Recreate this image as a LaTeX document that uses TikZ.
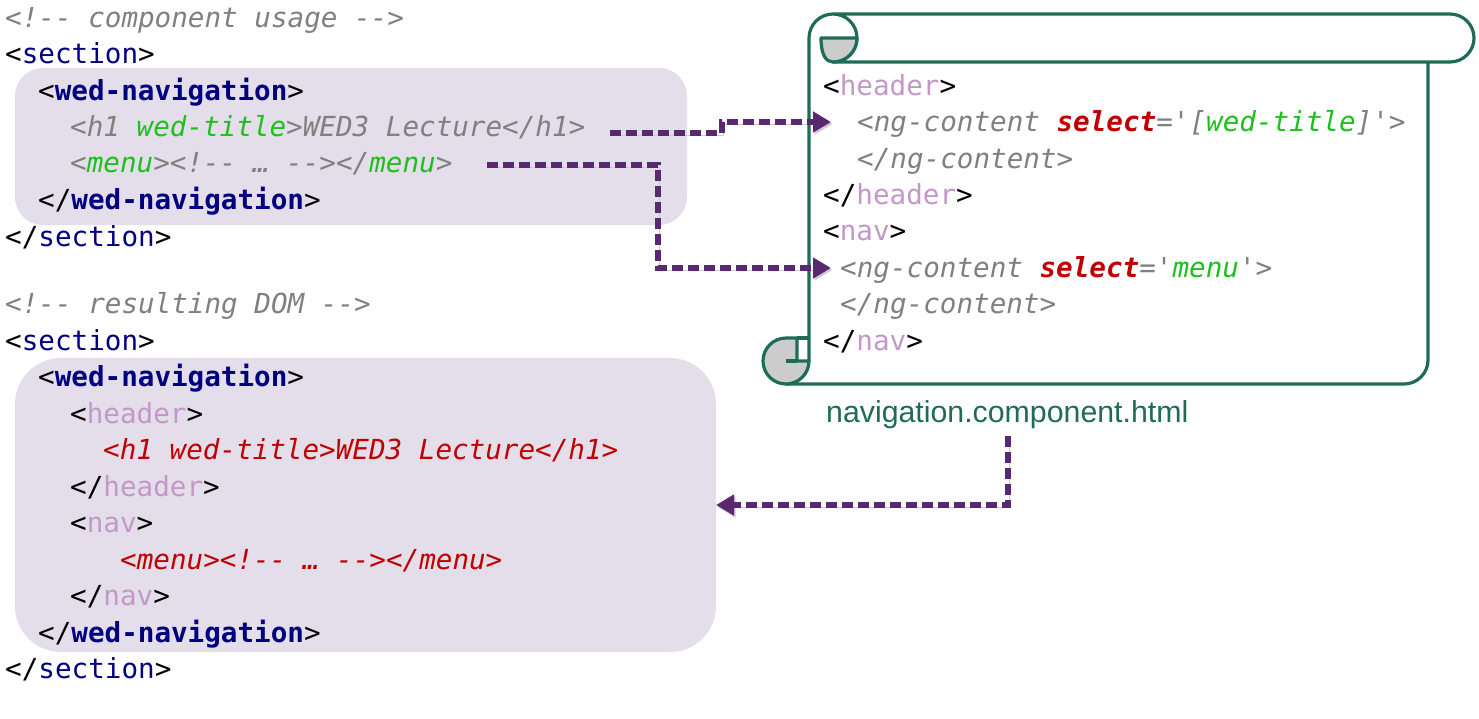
\documentclass[tikz,border=0pt]{standalone}
\usepackage{fontspec}
\usepackage{tikz}
\usetikzlibrary{arrows.meta}
\newfontfamily\codefont[Ligatures=TeXOff]{DejaVu Sans Mono}
\newfontfamily\labelfont{Liberation Sans}
\newcommand{\codestyle}{\codefont\fontsize{27.6}{30}\selectfont}
\definecolor{navytag}{RGB}{0,0,128}
\definecolor{cmtgray}{RGB}{128,128,128}
\definecolor{attrgreen}{RGB}{30,192,30}
\definecolor{lilac}{RGB}{195,152,200}
\definecolor{codered}{RGB}{192,0,0}
\definecolor{scrollgreen}{RGB}{30,108,88}
\definecolor{flowpurple}{RGB}{90,40,112}
\definecolor{boxlav}{RGB}{228,222,234}
\definecolor{curlgray}{RGB}{204,204,204}
\newcommand{\nv}[1]{\textcolor{navytag}{#1}}
\newcommand{\nvb}[1]{\textcolor{navytag}{\bfseries #1}}
\newcommand{\lil}[1]{\textcolor{lilac}{#1}}
\newcommand{\grn}[1]{\textcolor{attrgreen}{#1}}
\newcommand{\sel}[1]{\textcolor{codered}{\bfseries #1}}
\tikzset{code/.style={anchor=base west, inner sep=0pt, font=\codestyle},
  cmt/.style={code, text=cmtgray, font=\codestyle\itshape},
  redcode/.style={code, text=codered, font=\codestyle\itshape},
  lavbox/.style={fill=boxlav, rounded corners=#1},
  scroll/.style={draw=scrollgreen, line width=3.2pt, line join=round},
  curl/.style={scroll, fill=curlgray},
  flow/.style={draw=flowpurple, line width=5.5pt, dash pattern=on 11pt off 5pt,
    -{Triangle[length=18pt,width=20pt]},
    preaction={draw=black!20, transform canvas={xshift=1.5pt, yshift=-2pt}}}}

\begin{document}
\begin{tikzpicture}[x=1pt, y=-1pt]
  \useasboundingbox (0,0) rectangle (1479,718);
  % lavender boxes
  \fill[lavbox=28pt] (15,68) rectangle (687,225);
  \fill[lavbox=46pt] (15,358) rectangle (716,652);
  % scroll
  \draw[scroll] (809,361) -- (809,38) arc (180:450:24) -- (1450,62)
    arc (90:-90:24) -- (833,14);
  \filldraw[curl] (857,38) -- (821,38) .. controls (821,55) and (826,62) .. (833,62)
    arc (90:0:24) -- cycle;
  \draw[scroll, rounded corners=24pt] (1428,62) -- (1428,384) -- (786,384);
  \filldraw[curl] (786,338) -- (797,338) -- (797,361) -- (809,361) arc (0:270:23) -- cycle;
  \draw[scroll] (797,338) -- (809,338);
  \draw[scroll] (786,361) -- (797,361);
  % component usage
  \node[cmt] (cmtuse) at (5,27) {<!-- component usage -->};
  \node[code] (secuse) at (5,63) {<\nv{section}>};
  \node[code] (navuse) at (38,100) {<\nvb{wed-navigation}>};
  \node[cmt] (h1use) at (70,136) {<h1 \grn{wed-title}>WED3 Lecture</h1>};
  \node[cmt] (menuuse) at (70,172) {<\grn{menu}><!-- … --></\grn{menu}>};
  \node[code] (navuseend) at (38,209) {</\nvb{wed-navigation}>};
  \node[code] (secuseend) at (5,246) {</\nv{section}>};
  % resulting DOM
  \node[cmt] (cmtdom) at (5,313) {<!-- resulting DOM -->};
  \node[code] (secdom) at (5,350) {<\nv{section}>};
  \node[code] (navdom) at (38,386) {<\nvb{wed-navigation}>};
  \node[code] (headdom) at (70,423) {<\lil{header}>};
  \node[redcode] (h1dom) at (103,459) {<h1 wed-title>WED3 Lecture</h1>};
  \node[code] (headdomend) at (70,496) {</\lil{header}>};
  \node[code] (navtagdom) at (70,532) {<\lil{nav}>};
  \node[redcode] (menudom) at (120,569) {<menu><!-- … --></menu>};
  \node[code] (navtagdomend) at (70,605) {</\lil{nav}>};
  \node[code] (navdomend) at (38,642) {</\nvb{wed-navigation}>};
  \node[code] (secdomend) at (5,678) {</\nv{section}>};
  % template
  \node[code] (tplhead) at (823,95) {<\lil{header}>};
  \node[cmt] (tpltitle) at (857,131) {<ng-content \sel{select}='[\grn{wed-title}]'>};
  \node[cmt] (tpltitleend) at (857,168) {</ng-content>};
  \node[code] (tplheadend) at (823,204) {</\lil{header}>};
  \node[code] (tplnav) at (823,240) {<\lil{nav}>};
  \node[cmt] (tplmenu) at (840,277) {<ng-content \sel{select}='\grn{menu}'>};
  \node[cmt] (tplmenuend) at (840,313) {</ng-content>};
  \node[code] (tplnavend) at (823,350) {</\lil{nav}>};
  \node[anchor=base west, inner sep=0pt, text=scrollgreen,
    font=\labelfont\fontsize{30.3}{32}\selectfont] (tplfile) at (826,422) {navigation.component.html};
  % connectors
  \coordinate (h1out) at (610,133);
  \coordinate (titlein) at (831,122);
  \coordinate (menuout) at (487,165);
  \coordinate (menuin) at (831,268);
  \coordinate (fileout) at (1008,436);
  \coordinate (domin) at (716,505);
  \draw[flow] (h1out) -- ++(112,0) |- (titlein);
  \draw[flow] (menuout) -- ++(171,0) |- (menuin);
  \draw[flow] (fileout) |- (domin);
\end{tikzpicture}
\end{document}
